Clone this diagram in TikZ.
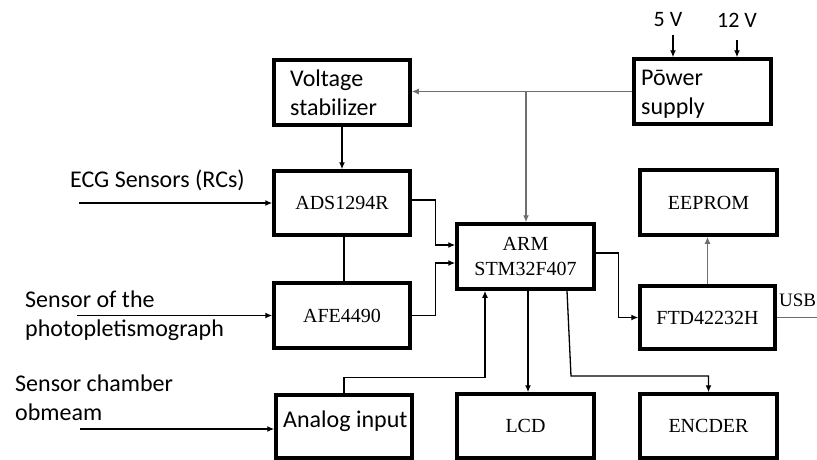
\documentclass[tikz,border=0pt]{standalone}
\usepackage{fontspec}
\setmainfont{Carlito}
\newfontfamily\tms{Liberation Serif}
\usetikzlibrary{arrows.meta}
\definecolor{lgray}{HTML}{6E6E6E}
\tikzset{
  box/.style={draw, line width=3.5pt, minimum width=136pt, minimum height=65pt, inner sep=0pt},
  tbox/.style={box, font=\tms\fontsize{20}{22}\selectfont, align=center},
  cbox/.style={box},
  arr/.style={line width=1.3pt, -{Latex[length=7pt,width=6pt]}},
  ln/.style={line width=1.3pt},
  lbl/.style={font=\fontsize{24}{29}\selectfont, align=left, anchor=west, inner sep=0pt},
}
\begin{document}
\begin{tikzpicture}[x=1pt,y=-1pt]
\useasboundingbox (0,0) rectangle (817,459);
% boxes
\node[cbox] (vs) at (342,92.5) {};
\node[lbl] at (290,92.5) {Voltage\\stabilizer};
\node[tbox, minimum height=64pt] (ads) at (342,203) {ADS1294R};
\node[tbox] (afe) at (342,315.5) {AFE4490};
\node[cbox, minimum height=63pt] (ain) at (344,426.5) {};
\node[lbl] at (283,421) {Analog input};
\node[tbox, minimum width=137pt, font=\tms\fontsize{20}{25}\selectfont] (arm) at (525.5,256.5) {ARM\\STM32F407};
\node[tbox, minimum width=137pt, minimum height=64pt] (lcd) at (525.5,426) {LCD};
\node[tbox, minimum width=137pt, minimum height=64pt] (enc) at (708.5,426) {ENCDER};
\node[tbox, minimum width=135pt, minimum height=63pt] (ftd) at (707.5,317.5) {FTD42232H};
\node[tbox, minimum width=137pt] (eep) at (708.5,202.5) {EEPROM};
\node[cbox, minimum width=137pt] (ps) at (702.5,91.5) {};
\node[lbl] at (641,94) {P\={o}wer\\supply};
% labels
\node[lbl] (lecg) at (70,180) {ECG Sensors (RCs)};
\node[lbl] (lppg) at (25,315.5) {Sensor of the\\photopletismograph};
\node[lbl] (lch) at (15,397.5) {Sensor chamber\\obmeam};
\node[font=\fontsize{22}{24}\selectfont, inner sep=0pt] (l5) at (668,20) {5 V};
\node[font=\fontsize{22}{24}\selectfont, inner sep=0pt] (l12) at (737,20) {12 V};
\node[font=\tms\fontsize{19}{21}\selectfont, anchor=west, inner sep=0pt] (lusb) at (779,300) {USB};
% coordinates
\coordinate (c5) at (673,35);
\coordinate (c12) at (737,40);
\coordinate (cecg) at (79,203);
\coordinate (cppg) at (77,315.5);
\coordinate (cch) at (80,429);
\coordinate (j) at (526,91.5);
\coordinate (eb) at (571,376);
\coordinate (usbend) at (824,317.5);
% connectors
\draw[arr] (c5) -- (c5 |- ps.north);
\draw[arr] (c12) -- (c12 |- ps.north);
\draw[arr, lgray] (ps.west) -- (ps.west -| vs.east);
\draw[arr, lgray] (j) -- (j |- arm.north);
\draw[arr] (vs.south) -- (ads.north);
\draw[ln] ([xshift=2pt]ads.south) -- ([xshift=2pt]afe.north);
\draw[arr] (cecg) -- (ads.west);
\draw[arr] (cppg) -- (afe.west);
\draw[arr] (cch) -- (cch -| ain.west);
\draw[arr] ([yshift=3pt]ads.east) -- ++(24,0) |- ([yshift=11.5pt]arm.west);
\draw[arr] (afe.east) -- ++(24,0) |- ([yshift=-6.5pt]arm.west);
\draw[arr] (ain.north) -- ++(0,-16) -| ([xshift=-40.5pt]arm.south);
\draw[arr] ([xshift=2.5pt]arm.south) -- ([xshift=2.5pt]lcd.north);
\draw[arr] ([xshift=41.5pt]arm.south) -- (eb) -| (enc.north);
\draw[arr] ([yshift=3.5pt]arm.east) -- ++(23,0) |- (ftd.west);
\draw[arr, lgray] (ftd.north) -- (ftd.north |- eep.south);
\draw[arr, lgray] (ftd.east) -- (usbend);
\end{tikzpicture}
\end{document}
